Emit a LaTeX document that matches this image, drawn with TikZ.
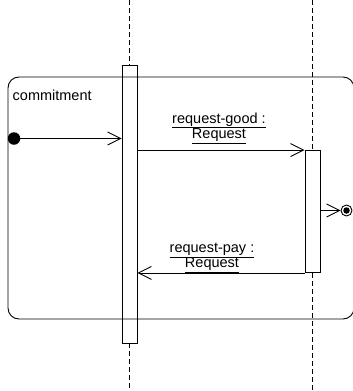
\documentclass[tikz,border=0pt]{standalone}
\usepackage{fontspec}
\setmainfont{Liberation Sans}
\usetikzlibrary{arrows.meta,positioning,calc}
\tikzset{
    every node/.append style={font=\fontsize{14.5}{15.5}\selectfont},
    lifeline/.style={dash pattern=on 5pt off 3pt, line width=0.9pt},
    activation/.style={draw, line width=0.9pt, minimum width=15pt, inner sep=0pt},
    msg/.style={line width=0.9pt, -{Straight Barb[length=13pt,width=13pt]}},
    msglabel/.style={align=center, inner sep=0pt}}
\newcommand{\ul}[1]{\underline{#1}}

\begin{document}
\begin{tikzpicture}[x=1pt,y=-1pt]
    \useasboundingbox (0,0) rectangle (353,391);

    % activations and lifelines
    \node[activation, minimum height=278pt] (act1) at (129.5,204) {};
    \node[activation, minimum height=122pt] (act2) at (312.5,211.5) {};
    \coordinate (top1) at (129.5,0);
    \coordinate (bot1) at (129.5,391);
    \coordinate (top2) at (312.5,0);
    \coordinate (bot2) at (312.5,391);
    \draw[lifeline] (top1) -- (act1.north);
    \draw[lifeline] (act1.south) -- (bot1);
    \draw[lifeline] (top2) -- (act2.north);
    \draw[lifeline] (act2.south) -- (bot2);

    % fragment
    \draw[line width=0.9pt, rounded corners=11pt] (8,77) rectangle (354,319);
    \node[anchor=base west, inner sep=0pt] (frametitle) at (12.5,100) {commitment};

    \node[circle, fill, inner sep=0pt, minimum size=12.5pt] (start) at (14,138.5) {};
    \node[circle, draw, line width=0.9pt, inner sep=0pt, minimum size=11pt] (stop) at (346.5,210.5) {};
    \node[circle, fill, inner sep=0pt, minimum size=6.5pt] (stopdot) at (stop) {};

    \draw[msg] (start) -- (start -| act1.west);
    \draw[msg] (act2.north west -| act1.east) -- (act2.north west);
    \draw[msg] (act2.south west) -- (act2.south west -| act1.east);
    \draw[msg] (act2.east |- stop) -- (stop);

    \node[msglabel] (good) at (219,128) {\ul{request-good :}\\\ul{Request}};
    \node[msglabel] (pay) at (212,258) {\ul{request-pay :}\\\ul{Request}};
\end{tikzpicture}
\end{document}
